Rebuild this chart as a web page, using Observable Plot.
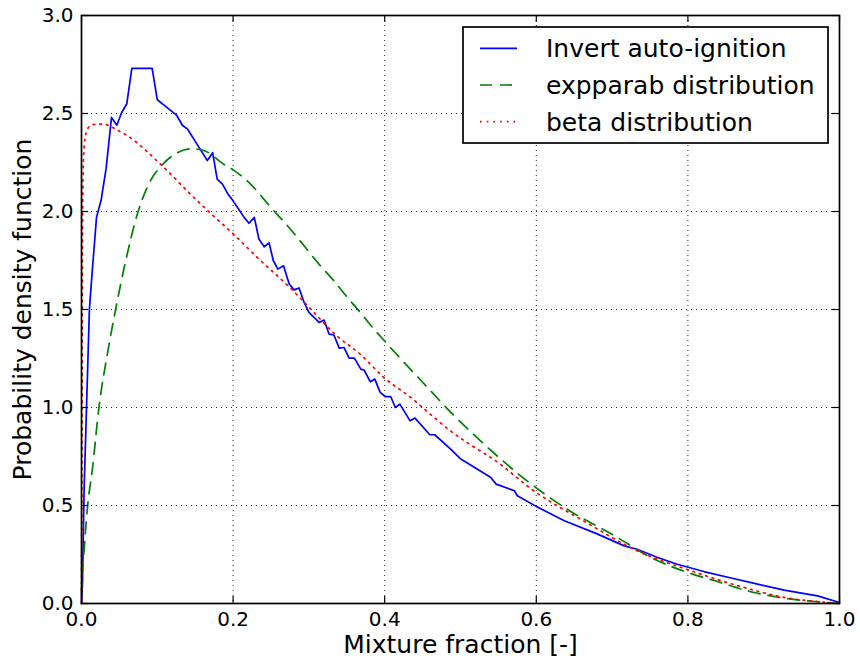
<!DOCTYPE html>
<html><head><meta charset="utf-8">
<script src="https://cdn.jsdelivr.net/npm/d3@7"></script>
<script src="https://cdn.jsdelivr.net/npm/@observablehq/plot@0.6"></script>
<style>body{margin:0;background:#fff} #chart{width:860px;height:659px}</style>
</head><body><div id="chart"></div><script>
// ---- data ----
const xTicks = [0, 0.2, 0.4, 0.6, 0.8, 1.0];
const yTicks = [0, 0.5, 1.0, 1.5, 2.0, 2.5, 3.0];
const xLabel = "Mixture fraction [-]";
const yLabel = "Probability density function";
const seriesNames = ["Invert auto-ignition", "expparab distribution", "beta distribution"];

const invertX = [0,0.0013,0.0035,0.007,0.0104,0.0132,0.0198,0.026,0.0325,0.0396,0.0466,0.053,0.0598,0.0664,0.0932,0.100,0.113,0.1257,0.133,0.14,0.153,0.166,0.173,0.179,0.186,0.193,0.199,0.2145,0.221,0.228,0.234,0.241,0.2475,0.253,0.259,0.2665,0.274,0.2805,0.287,0.2937,0.300,0.3135,0.32,0.3267,0.333,0.34,0.3465,0.353,0.36,0.3685,0.373,0.381,0.387,0.394,0.401,0.408,0.414,0.420,0.4335,0.44,0.4595,0.466,0.487,0.5004,0.54,0.547,0.571,0.575,0.601,0.637,0.681,0.716,0.733,0.76,0.786,0.821,0.857,0.892,0.927,0.971,1.0];
const invertY = [0,0.1,0.59,1.05,1.5,1.646,1.97,2.06,2.22,2.48,2.44,2.505,2.55,2.73,2.73,2.57,2.53,2.49,2.44,2.42,2.34,2.26,2.30,2.165,2.14,2.09,2.06,1.97,1.94,1.97,1.86,1.82,1.84,1.75,1.706,1.723,1.63,1.60,1.61,1.536,1.485,1.434,1.446,1.374,1.37,1.303,1.306,1.252,1.252,1.196,1.19,1.131,1.145,1.077,1.055,1.055,1.0,1.017,0.932,0.946,0.861,0.861,0.788,0.737,0.643,0.609,0.575,0.55,0.493,0.422,0.354,0.294,0.277,0.235,0.20,0.163,0.13,0.099,0.068,0.039,0.005];

const expX = [0,0.0004,0.0034,0.0079,0.0145,0.023,0.034,0.045,0.0584,0.0739,0.0914,0.107,0.1266,0.144,0.162,0.188,0.201,0.223,0.25,0.28,0.2937,0.3135,0.331,0.349,0.366,0.384,0.4015,0.4565,0.4916,0.518,0.593,0.637,0.707,0.751,0.80,0.839,0.883,0.927,0.971,1.0];
const expY = [0.05,0.1,0.27,0.49,0.69,1.0,1.27,1.5,1.75,1.99,2.16,2.24,2.30,2.32,2.31,2.24,2.21,2.14,2.02,1.89,1.825,1.73,1.655,1.57,1.493,1.408,1.332,1.102,0.958,0.86,0.61,0.49,0.337,0.235,0.158,0.112,0.06,0.0275,0.009,0];

const betaX = [0,0.0005,0.001,0.0015,0.003,0.006,0.0123,0.021,0.03,0.045,0.0607,0.1046,0.1486,0.1706,0.199,0.232,0.278,0.3025,0.3355,0.3685,0.399,0.437,0.45,0.487,0.522,0.54,0.60,0.663,0.733,0.804,0.874,0.927,0.971,1.0];
const betaY = [0,0.6,1.4,2.0,2.3,2.4,2.44,2.446,2.445,2.42,2.386,2.24,2.07,1.99,1.89,1.765,1.6,1.502,1.37,1.269,1.153,1.043,1.0,0.88,0.788,0.745,0.566,0.42,0.269,0.167,0.082,0.031,0.01,0];

const colors = ["#0000ff", "#008000", "#ff0000"];
const dashes = [null, "12,8", "1.7,5"];

// ---- build ----
const zip = (xs, ys) => xs.map((x, i) => ({x, y: ys[i]}));
const invert = zip(invertX, invertY), expp = zip(expX, expY), beta = zip(betaX, betaY);

const W = 860, H = 659, mL = 81, mR = 21, mT = 15, mB = 56;
const innerW = W - mL - mR, innerH = H - mT - mB;
const tickLen = 7;
const fmt = d => d.toFixed(1);

const plot = Plot.plot({
  width: W, height: H,
  marginLeft: mL, marginRight: mR, marginTop: mT, marginBottom: mB,
  style: {fontFamily: "DejaVu Sans", fontSize: "20px", background: "white", color: "black"},
  x: {domain: [0, 1]},
  y: {domain: [0, 3]},
  marks: [
    Plot.gridX(xTicks, {stroke: "#000", strokeOpacity: 0.85, strokeWidth: 1, strokeDasharray: "1,4"}),
    Plot.gridY(yTicks, {stroke: "#000", strokeOpacity: 0.85, strokeWidth: 1, strokeDasharray: "1,4"}),
    Plot.line(invert, {x: "x", y: "y", stroke: colors[0], strokeWidth: 1.7}),
    Plot.line(expp, {x: "x", y: "y", stroke: colors[1], strokeWidth: 1.7, strokeDasharray: dashes[1], curve: "monotone-x"}),
    Plot.line(beta, {x: "x", y: "y", stroke: colors[2], strokeWidth: 1.7, strokeDasharray: dashes[2], curve: "monotone-x"}),
    Plot.tickX(xTicks, {x: d => d, insetTop: innerH - tickLen, stroke: "black", strokeWidth: 1.2}),
    Plot.tickX(xTicks, {x: d => d, insetBottom: innerH - tickLen, stroke: "black", strokeWidth: 1.2}),
    Plot.tickY(yTicks, {y: d => d, insetRight: innerW - tickLen, stroke: "black", strokeWidth: 1.2}),
    Plot.tickY(yTicks, {y: d => d, insetLeft: innerW - tickLen, stroke: "black", strokeWidth: 1.2}),
    Plot.frame({stroke: "black", strokeWidth: 1.7}),
    Plot.axisX(xTicks, {tickSize: 0, tickPadding: 8, tickFormat: fmt, label: null, fontSize: 20}),
    Plot.axisY(yTicks, {tickSize: 0, tickPadding: 8, tickFormat: fmt, label: null, fontSize: 20}),
    Plot.text([xLabel], {text: d => d, frameAnchor: "bottom", lineAnchor: "middle", textAnchor: "middle", dy: 41, fontSize: 25}),
    Plot.text([yLabel], {text: d => d, frameAnchor: "left", lineAnchor: "middle", textAnchor: "middle", dx: -59, rotate: -90, fontSize: 25})
  ]
});
document.getElementById("chart").appendChild(plot);

// ---- legend ----
const svg = d3.select(plot);
const lg = svg.append("g").attr("font-family", "DejaVu Sans").attr("font-size", 25).attr("text-anchor", "start");
lg.append("rect").attr("x", 463).attr("y", 27).attr("width", 365).attr("height", 116)
  .attr("fill", "white").attr("stroke", "black").attr("stroke-width", 1.7);
seriesNames.forEach((name, i) => {
  const yb = 57.3 + i * 36.7;
  const ym = yb - 9;
  lg.append("line").attr("x1", 480).attr("x2", 517).attr("y1", ym).attr("y2", ym)
    .attr("stroke", colors[i]).attr("stroke-width", 1.7)
    .attr("stroke-dasharray", dashes[i]);
  lg.append("text").attr("x", 546).attr("y", yb).attr("fill", "black").attr("text-anchor", "start").text(name);
});
</script></body></html>
